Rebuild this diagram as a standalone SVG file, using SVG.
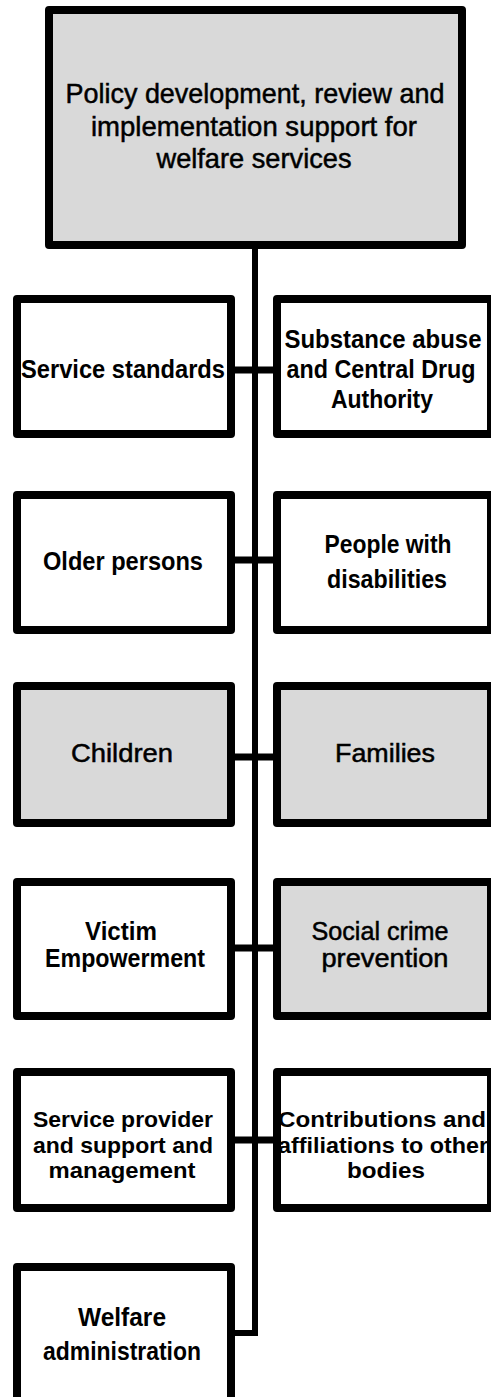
<svg xmlns="http://www.w3.org/2000/svg" width="491" height="1397" viewBox="0 0 491 1397">
  <style>
    .box { fill: #ffffff; stroke: #000000; stroke-width: 8; stroke-linejoin: round; }
    .shade { fill: #d9d9d9; }
    .wire { fill: none; stroke: #000000; stroke-linejoin: miter; }
    .trunk { stroke-width: 6; }
    .branch { stroke-width: 7; }
    text { font-family: "Liberation Sans", Arial, sans-serif; fill: #000000; text-anchor: middle; }
    .lbl { font-size: 25px; font-weight: bold; }
    .lbl-s { font-size: 22px; font-weight: bold; }
    .lbl-r { font-size: 25px; font-weight: normal; stroke: #000000; stroke-width: 0.5; }
    .head { font-size: 28px; font-weight: normal; stroke: #000000; stroke-width: 0.5; }
  </style>

  <!-- connectors -->
  <g id="connectors">
    <path class="wire trunk" d="M255,249 V1333 H231"/>
    <line class="wire branch" x1="231" y1="370" x2="277" y2="370"/>
    <line class="wire branch" x1="231" y1="560" x2="277" y2="560"/>
    <line class="wire branch" x1="231" y1="757" x2="277" y2="757"/>
    <line class="wire branch" x1="231" y1="948" x2="277" y2="948"/>
    <line class="wire branch" x1="231" y1="1140" x2="277" y2="1140"/>
  </g>

  <!-- head unit -->
  <g id="policy-development">
    <rect class="box shade" x="49" y="10" width="413" height="235"/>
    <text class="head" x="255" y="103" textLength="379" lengthAdjust="spacingAndGlyphs">Policy development, review and</text>
    <text class="head" x="254" y="136" textLength="326" lengthAdjust="spacingAndGlyphs">implementation support for</text>
    <text class="head" x="254" y="168" textLength="195" lengthAdjust="spacingAndGlyphs">welfare services</text>
  </g>

  <!-- row 1 -->
  <g id="service-standards">
    <rect class="box" x="17" y="299" width="214" height="135"/>
    <text class="lbl" x="123" y="378" textLength="204" lengthAdjust="spacingAndGlyphs">Service standards</text>
  </g>
  <g id="substance-abuse">
    <rect class="box" x="277" y="299" width="214" height="135"/>
    <text class="lbl" x="383" y="348" textLength="197" lengthAdjust="spacingAndGlyphs">Substance abuse</text>
    <text class="lbl" x="381" y="378" textLength="189" lengthAdjust="spacingAndGlyphs">and Central Drug</text>
    <text class="lbl" x="382" y="408" textLength="102" lengthAdjust="spacingAndGlyphs">Authority</text>
  </g>

  <!-- row 2 -->
  <g id="older-persons">
    <rect class="box" x="17" y="495" width="214" height="135"/>
    <text class="lbl" x="123" y="570" textLength="160" lengthAdjust="spacingAndGlyphs">Older persons</text>
  </g>
  <g id="people-with-disabilities">
    <rect class="box" x="277" y="495" width="214" height="135"/>
    <text class="lbl" x="388" y="553" textLength="127" lengthAdjust="spacingAndGlyphs">People with</text>
    <text class="lbl" x="387" y="588" textLength="120" lengthAdjust="spacingAndGlyphs">disabilities</text>
  </g>

  <!-- row 3 -->
  <g id="children">
    <rect class="box shade" x="17" y="686" width="214" height="137"/>
    <text class="lbl-r" x="122" y="762" textLength="102" lengthAdjust="spacingAndGlyphs">Children</text>
  </g>
  <g id="families">
    <rect class="box shade" x="277" y="686" width="214" height="137"/>
    <text class="lbl-r" x="385" y="762" textLength="100" lengthAdjust="spacingAndGlyphs">Families</text>
  </g>

  <!-- row 4 -->
  <g id="victim-empowerment">
    <rect class="box" x="17" y="882" width="214" height="134"/>
    <text class="lbl" x="121" y="940" textLength="72" lengthAdjust="spacingAndGlyphs">Victim</text>
    <text class="lbl" x="125" y="967" textLength="160" lengthAdjust="spacingAndGlyphs">Empowerment</text>
  </g>
  <g id="social-crime-prevention">
    <rect class="box shade" x="277" y="882" width="214" height="134"/>
    <text class="lbl-r" x="380" y="940" textLength="137" lengthAdjust="spacingAndGlyphs">Social crime</text>
    <text class="lbl-r" x="385" y="967" textLength="127" lengthAdjust="spacingAndGlyphs">prevention</text>
  </g>

  <!-- row 5 -->
  <g id="service-provider-support">
    <rect class="box" x="17" y="1072" width="214" height="136"/>
    <text class="lbl-s" x="123" y="1127" textLength="180" lengthAdjust="spacingAndGlyphs">Service provider</text>
    <text class="lbl-s" x="123" y="1153" textLength="180" lengthAdjust="spacingAndGlyphs">and support and</text>
    <text class="lbl-s" x="122" y="1178" textLength="147" lengthAdjust="spacingAndGlyphs">management</text>
  </g>
  <g id="contributions-affiliations">
    <rect class="box" x="277" y="1072" width="214" height="136"/>
    <text class="lbl-s" x="382" y="1127" textLength="208" lengthAdjust="spacingAndGlyphs">Contributions and</text>
    <text class="lbl-s" x="383" y="1153" textLength="210" lengthAdjust="spacingAndGlyphs">affiliations to other</text>
    <text class="lbl-s" x="386" y="1178" textLength="78" lengthAdjust="spacingAndGlyphs">bodies</text>
  </g>

  <!-- row 6 -->
  <g id="welfare-administration">
    <rect class="box" x="17" y="1267" width="214" height="140"/>
    <text class="lbl" x="122" y="1326" textLength="88" lengthAdjust="spacingAndGlyphs">Welfare</text>
    <text class="lbl" x="122" y="1360" textLength="158" lengthAdjust="spacingAndGlyphs">administration</text>
  </g>
</svg>
